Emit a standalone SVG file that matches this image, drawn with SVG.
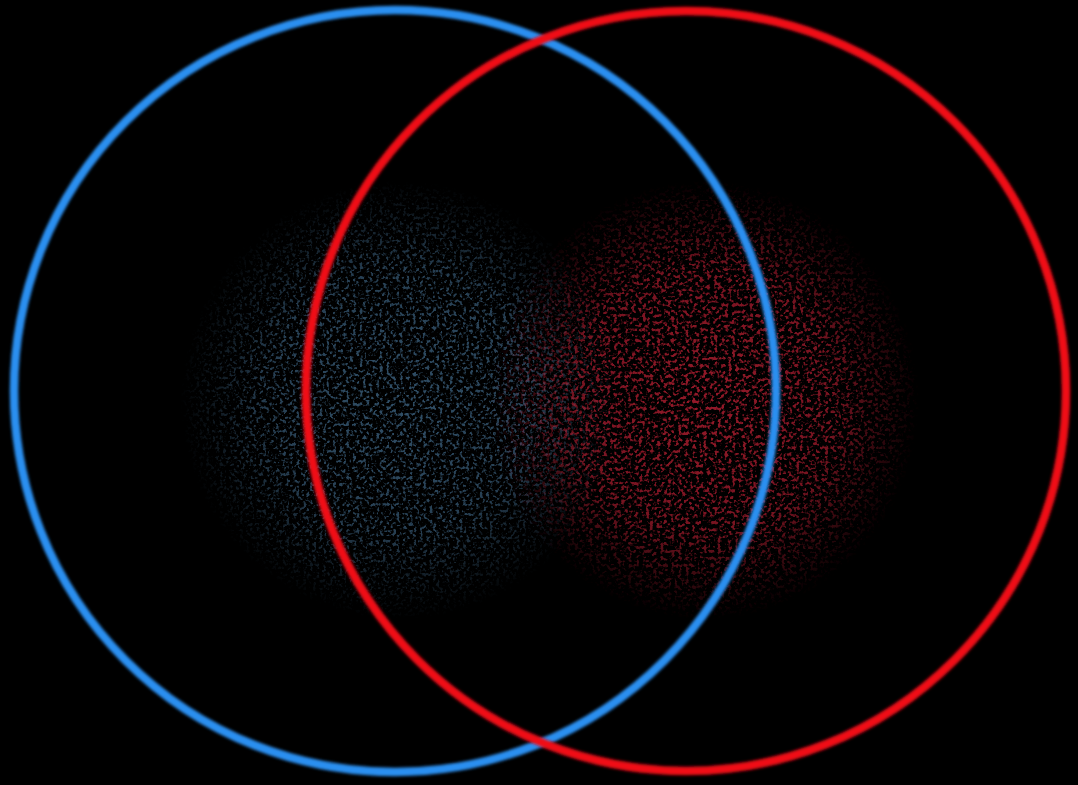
<svg xmlns="http://www.w3.org/2000/svg" width="1078" height="785" viewBox="0 0 1078 785">
  <defs>
    <radialGradient id="gB" cx="0.5" cy="0.5" r="0.5">
      <stop offset="0" stop-color="#fff" stop-opacity="1"/>
      <stop offset="0.6" stop-color="#fff" stop-opacity="0.8"/>
      <stop offset="1" stop-color="#fff" stop-opacity="0"/>
    </radialGradient>
    <filter id="speckBlue" x="0" y="0" width="1" height="1">
      <feTurbulence type="fractalNoise" baseFrequency="0.3" numOctaves="2" seed="4" result="n"/>
      <feColorMatrix in="n" type="matrix" values="0 0 0 0 0.12  0 0 0 0 0.34  0 0 0 0 0.62  6 0 0 0 -3.1" result="s"/>
      <feComposite in="s" in2="SourceGraphic" operator="in"/>
    </filter>
    <filter id="speckRed" x="0" y="0" width="1" height="1">
      <feTurbulence type="fractalNoise" baseFrequency="0.28" numOctaves="2" seed="11" result="n"/>
      <feColorMatrix in="n" type="matrix" values="0 0 0 0 0.78  0 0 0 0 0.02  0 0 0 0 0.05  6 0 0 0 -3.0" result="s"/>
      <feComposite in="s" in2="SourceGraphic" operator="in"/>
    </filter>
    <filter id="glow" x="-0.1" y="-0.1" width="1.2" height="1.2">
      <feGaussianBlur stdDeviation="1.4"/>
    </filter>
    <style>
      .ring { fill: none; stroke-width: 8.5; filter: url(#glow); }
      .blue { stroke: #2a8ff0; }
      .red { stroke: #f01018; }
    </style>
  </defs>
  <rect width="1078" height="785" fill="#000"/>
  <g id="clouds">
    <rect id="cloud-blue" x="180" y="180" width="440" height="440" fill="url(#gB)" opacity="0.5" filter="url(#speckBlue)"/>
    <rect id="cloud-red" x="490" y="180" width="430" height="440" fill="url(#gB)" opacity="0.65" filter="url(#speckRed)"/>
  </g>
  <g id="ring-blue">
    <circle class="ring blue" cx="395" cy="391" r="381"/>
  </g>
  <g id="ring-red">
    <circle class="ring red" cx="686" cy="391" r="380"/>
  </g>
</svg>
